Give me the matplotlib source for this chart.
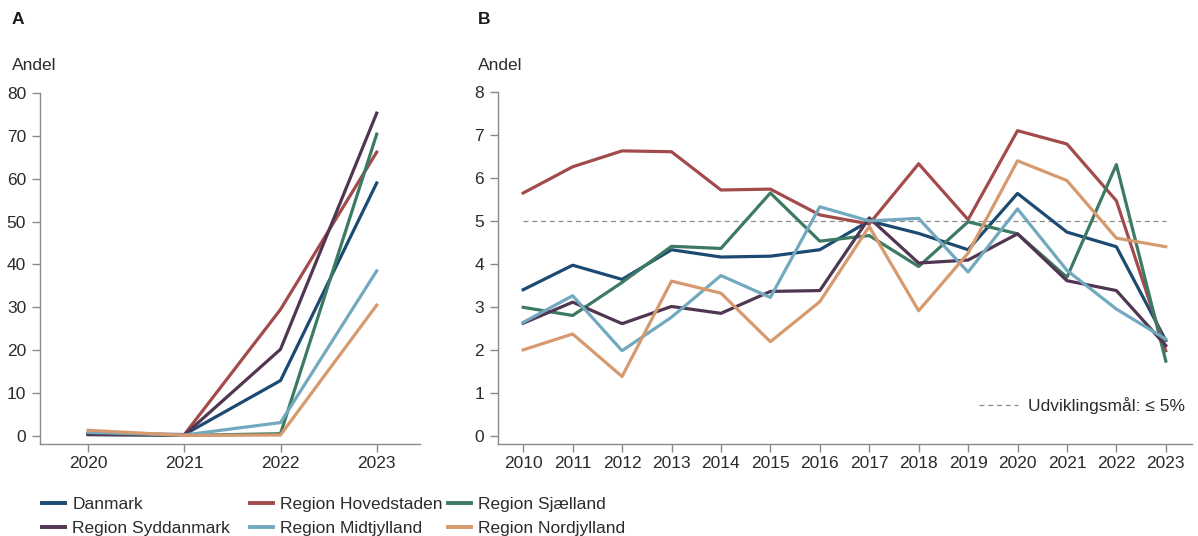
import matplotlib
matplotlib.use('Agg')
import matplotlib.pyplot as plt
from matplotlib.lines import Line2D

plt.rcParams['font.family'] = ['Liberation Sans', 'DejaVu Sans']

# Data, panel A
aar_a = [2020, 2021, 2022, 2023]
a_danmark = [0.5, 0.3, 12.9, 59.0]
a_hovedstaden = [0.5, 0.3, 29.5, 66.2]
a_sjaelland = [0.3, 0.1, 0.5, 70.4]
a_syddanmark = [0.3, 0.2, 20.2, 75.3]
a_midtjylland = [0.8, 0.2, 3.1, 38.5]
a_nordjylland = [1.3, 0.1, 0.2, 30.5]

# Data, panel B
aar_b = list(range(2010, 2024))
b_danmark = [3.40, 3.97, 3.64, 4.33, 4.16, 4.18, 4.33, 5.00, 4.71, 4.33, 5.64, 4.74, 4.40, 2.22]
b_hovedstaden = [5.65, 6.26, 6.63, 6.61, 5.72, 5.74, 5.14, 4.93, 6.33, 5.03, 7.10, 6.79, 5.47, 1.98]
b_sjaelland = [2.99, 2.80, 3.57, 4.41, 4.36, 5.65, 4.53, 4.66, 3.94, 4.98, 4.70, 3.69, 6.31, 1.74]
b_syddanmark = [2.62, 3.11, 2.61, 3.01, 2.85, 3.36, 3.38, 5.07, 4.02, 4.09, 4.70, 3.61, 3.38, 2.10]
b_midtjylland = [2.64, 3.26, 1.98, 2.76, 3.73, 3.22, 5.33, 5.00, 5.06, 3.81, 5.28, 3.85, 2.95, 2.25]
b_nordjylland = [2.00, 2.37, 1.38, 3.60, 3.32, 2.19, 3.12, 4.87, 2.91, 4.25, 6.40, 5.94, 4.60, 4.40]
maal = 5

navne = ['Danmark', 'Region Hovedstaden', 'Region Sjælland',
         'Region Syddanmark', 'Region Midtjylland', 'Region Nordjylland']
farver = ['#1c4a72', '#a34b4c', '#3d7a64', '#513652', '#72a9bf', '#d69a6e']

serier_a = [a_danmark, a_hovedstaden, a_sjaelland, a_syddanmark, a_midtjylland, a_nordjylland]
serier_b = [b_danmark, b_hovedstaden, b_sjaelland, b_syddanmark, b_midtjylland, b_nordjylland]

fs = 12.5

fig = plt.figure(figsize=(11.98, 5.36), dpi=100)
ax_a = fig.add_axes([40 / 1198, 1 - 444 / 536, 380 / 1198, 351 / 536])
ax_b = fig.add_axes([498 / 1198, 1 - 444 / 536, 694 / 1198, 352 / 536])

for navn, farve, ya, yb in zip(navne, farver, serier_a, serier_b):
    ax_a.plot(aar_a, ya, color=farve, lw=2.3, label=navn)
    ax_b.plot(aar_b, yb, color=farve, lw=2.3, label=navn)

ax_b.hlines(maal, aar_b[0], aar_b[-1], colors='#8c8c8c', linestyles=(0, (4, 3)),
            lw=0.9, zorder=1)

ax_a.set_xlim(2019.5, 2023.45)
ax_a.set_ylim(-1.9, 80)
ax_a.set_xticks(aar_a)
ax_a.set_yticks(range(0, 81, 10))

ax_b.set_xlim(2009.49, 2023.53)
ax_b.set_ylim(-0.19, 8)
ax_b.set_xticks(aar_b)
ax_b.set_yticks(range(0, 9))

for ax in (ax_a, ax_b):
    for s in ('top', 'right'):
        ax.spines[s].set_visible(False)
    for s in ('left', 'bottom'):
        ax.spines[s].set_color('#8a8a8a')
        ax.spines[s].set_linewidth(1.0)
    ax.tick_params(colors='#8a8a8a', labelcolor='#2b2b2b', labelsize=fs,
                   length=6, width=1.0)
    ax.tick_params(axis='x', pad=3)
    ax.tick_params(axis='y', pad=4)

# Target legend in panel B
maal_handle = Line2D([], [], color='#8c8c8c', ls=(0, (4, 3)), lw=0.9)
ax_b.legend([maal_handle], ['Udviklingsmål: ≤ 5%'], loc='lower right',
            bbox_to_anchor=(1.0, 0.065), frameon=False, fontsize=fs,
            handlelength=2.2, handletextpad=0.6, borderaxespad=0,
            labelcolor='#2b2b2b')

# Titles
fig.text(12 / 1198, 1 - 20 / 536, 'A', fontsize=fs, fontweight='bold',
         va='center', ha='left', color='#1a1a1a')
fig.text(478 / 1198, 1 - 20 / 536, 'B', fontsize=fs, fontweight='bold',
         va='center', ha='left', color='#1a1a1a')
fig.text(12 / 1198, 1 - 66 / 536, 'Andel', fontsize=fs, va='center',
         ha='left', color='#2b2b2b')
fig.text(478 / 1198, 1 - 66 / 536, 'Andel', fontsize=fs, va='center',
         ha='left', color='#2b2b2b')

# Legend below, in three columns
handles = [Line2D([], [], color=f, lw=2.8) for f in farver]
kolonner = [(0, 3), (1, 4), (2, 5)]
x_pos = [42, 250, 448]
for (i, j), xp in zip(kolonner, x_pos):
    fig.legend([handles[i], handles[j]], [navne[i], navne[j]],
               loc='upper left', bbox_to_anchor=(xp / 1198, 1 - 497 / 536),
               frameon=False, fontsize=fs, handlelength=1.35,
               handletextpad=0.4, labelspacing=0.5, borderaxespad=0,
               borderpad=0, labelcolor='#2b2b2b')

fig.savefig('out.png', dpi=100)
